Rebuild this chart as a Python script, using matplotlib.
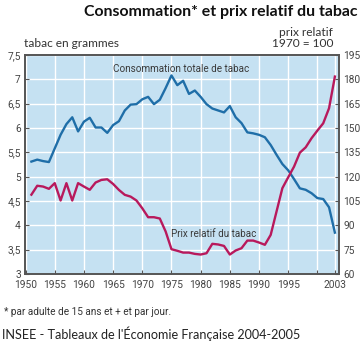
import matplotlib
matplotlib.use("Agg")
import matplotlib.pyplot as plt

# données (1951-2003)
annees = list(range(1951, 2004))
conso = [5.31, 5.35, 5.32, 5.30, 5.58, 5.86, 6.08, 6.22, 5.93, 6.13,
         6.21, 6.01, 6.01, 5.90, 6.06, 6.14, 6.36, 6.48, 6.49, 6.59,
         6.64, 6.49, 6.58, 6.82, 7.08, 6.88, 6.97, 6.70, 6.77, 6.64,
         6.49, 6.40, 6.36, 6.32, 6.45, 6.22, 6.10, 5.91, 5.89, 5.86,
         5.81, 5.65, 5.45, 5.26, 5.13, 4.95, 4.76, 4.73, 4.66, 4.56,
         4.54, 4.37, 3.85]
prix = [108.9, 114.4, 113.9, 112.5, 116.0, 105.3, 116.0, 105.3, 116.0, 113.9,
        111.9, 116.4, 118.0, 118.4, 115.5, 111.8, 108.8, 107.7, 105.3, 100.5,
        95.0, 95.0, 94.2, 86.2, 75.3, 74.3, 73.2, 73.2, 72.4, 72.0,
        72.8, 78.6, 78.2, 77.3, 72.0, 74.5, 75.9, 80.6, 80.6, 79.4,
        78.0, 84.1, 98.5, 112.9, 119.6, 126.2, 134.8, 138.1, 143.7, 148.4,
        152.9, 162.2, 181.7]

ticks_x = [1950, 1955, 1960, 1965, 1970, 1975, 1980, 1985, 1990, 1995, 2000, 2003]
labels_x = ['1950', '1955', '1960', '1965', '1970', '1975', '1980', '1985',
            '1990', '1995', '', '2003']
ticks_g = [3, 3.5, 4, 4.5, 5, 5.5, 6, 6.5, 7, 7.5]
labels_g = ['3', '3,5', '4', '4,5', '5', '5,5', '6', '6,5', '7', '7,5']
ticks_p = [60, 75, 90, 105, 120, 135, 150, 165, 180, 195]

narrow = ['Roboto', 'DejaVu Sans']
gris = '#444444'

fig = plt.figure(figsize=(3.6, 3.45), dpi=100)
ax = fig.add_axes([0.0694, 0.2058, 0.8722, 0.6348])
ax2 = ax.twinx()

ax.set_facecolor('#c5e1f2')
ax.plot(annees, conso, color='#1f6ea8', linewidth=1.7, zorder=3)
ax2.plot(annees, prix, color='#b8195c', linewidth=1.7, zorder=3)

ax.set_xlim(1949.9, 2003.7)
ax.set_ylim(3, 7.5)
ax2.set_ylim(60, 195)

ax.set_xticks(ticks_x)
ax.set_xticklabels(labels_x)
ax.set_yticks(ticks_g)
ax.set_yticklabels(labels_g)
ax2.set_yticks(ticks_p)
ax2.set_yticklabels([str(v) for v in ticks_p])

ax.grid(True, color='white', linewidth=1.0)
ax.set_axisbelow(True)

for a in (ax, ax2):
    a.tick_params(direction='in', length=3, width=0.8, color='#555555',
                  labelcolor=gris, labelsize=7.3, pad=3)
    for lab in a.get_xticklabels() + a.get_yticklabels():
        lab.set_family(narrow)
    for s in a.spines.values():
        s.set_color('#555555')
        s.set_linewidth(1.2)
ax.tick_params(axis='x', pad=4.5)

ax.text(1964.9, 7.21, 'Consommation totale de tabac', color='#3a3a3a',
        fontsize=7.1, family=narrow, va='center')
ax2.text(1974.9, 84.8, 'Prix relatif du tabac', color='#3a3a3a',
         fontsize=7.1, family=narrow, va='center')

fig.text(0.994, 0.965, 'Consommation* et prix relatif du tabac',
         ha='right', va='center', fontsize=11.4, fontweight='bold',
         family='Lato', color='#111111')
fig.text(0.066, 0.873, 'tabac en grammes', ha='left', va='center',
         fontsize=8.6, family='Lato', color='#333333')
fig.text(0.925, 0.905, 'prix relatif', ha='right', va='center',
         fontsize=8.6, family='Lato', color='#333333')
fig.text(0.925, 0.873, '1970 = 100', ha='right', va='center',
         fontsize=8.6, family='Lato', color='#333333')
fig.text(0.011, 0.097, '* par adulte de 15 ans et + et par jour.', ha='left',
         va='center', fontsize=7.2, family=narrow, color='#333333')
fig.text(0.005, 0.033, "INSEE - Tableaux de l'Économie Française 2004-2005",
         ha='left', va='center', fontsize=9.1, family='Lato', color='#222222')

fig.savefig('out.png', dpi=100)
